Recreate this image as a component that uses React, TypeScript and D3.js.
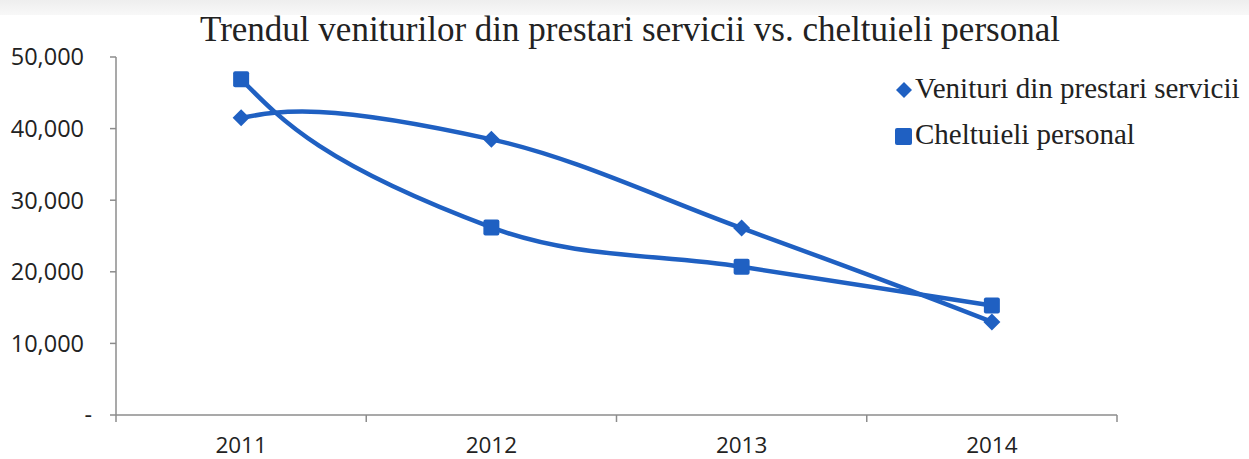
import React from "react";
import * as d3 from "d3";

const years = ["2011", "2012", "2013", "2014"];
const venituri = [41500, 38500, 26100, 13000];
const cheltuieli = [46900, 26200, 20700, 15300];
const yTicks = [0, 10000, 20000, 30000, 40000, 50000];
const title = "Trendul veniturilor din prestari servicii vs. cheltuieli personal";
const seriesNames = ["Venituri din prestari servicii", "Cheltuieli personal"];

const W = 1249, H = 459;
const left = 116, right = 1117, top = 57, bottom = 415;
const blue = "#1F60C2";
const axisColor = "#8c8c8c";

// Excel-like smoothed line: Catmull-Rom style tangents, stronger next to the ends, natural ends
function smoothPath(pts: [number, number][], kMid = 1 / 6, kEnd = 1 / 3): string {
  const p = d3.path();
  const n = pts.length;
  const dir = pts.map((_, i) => {
    if (i === 0 || i === n - 1) return null;
    return [pts[i + 1][0] - pts[i - 1][0], pts[i + 1][1] - pts[i - 1][1]] as [number, number];
  });
  p.moveTo(pts[0][0], pts[0][1]);
  for (let i = 0; i < n - 1; i++) {
    const a = pts[i], b = pts[i + 1];
    const endSeg = i === 0 || i === n - 2;
    const k = endSeg ? kEnd : kMid;
    let c1: [number, number] | null = dir[i] ? [a[0] + dir[i]![0] * k, a[1] + dir[i]![1] * k] : null;
    let c2: [number, number] | null = dir[i + 1] ? [b[0] - dir[i + 1]![0] * k, b[1] - dir[i + 1]![1] * k] : null;
    if (!c1 && c2) c1 = [(a[0] + c2[0]) / 2, (a[1] + c2[1]) / 2];
    if (!c2 && c1) c2 = [(b[0] + c1[0]) / 2, (b[1] + c1[1]) / 2];
    if (!c1 || !c2) { p.lineTo(b[0], b[1]); continue; }
    p.bezierCurveTo(c1[0], c1[1], c2[0], c2[1], b[0], b[1]);
  }
  return p.toString();
}

export default function App() {
  const x = d3.scaleBand().domain(years).range([left, right]).padding(0);
  const y = d3.scaleLinear().domain([0, 50000]).range([bottom, top]);
  const cx = (d: string) => (x(d) as number) + x.bandwidth() / 2;
  const toPts = (vals: number[]) => vals.map((v, i) => [cx(years[i]), y(v)] as [number, number]);
  const diamond = (px: number, py: number, s: number) =>
    `M${px},${py - s}L${px + s},${py}L${px},${py + s}L${px - s},${py}Z`;
  const bounds = [...years.map((d) => x(d) as number), right];
  const sans = "'Open Sans', sans-serif";
  const serif = "'Liberation Serif', serif";
  return (
    <svg width={W} height={H} style={{ position: "absolute", left: 0, top: 0, background: "#fff" }}>
      <defs>
        <linearGradient id="topband" x1="0" x2="0" y1="0" y2="1">
          <stop offset="0" stopColor="#eeeeee" />
          <stop offset="1" stopColor="#f8f8f8" />
        </linearGradient>
      </defs>
      <rect x={0} y={0} width={W} height={15} fill="url(#topband)" />
      <text x={630} y={41} textAnchor="middle" fontFamily={serif} fontSize={35} fill="#222">{title}</text>
      {/* axes */}
      <line x1={left} x2={left} y1={top} y2={bottom} stroke={axisColor} strokeWidth={1.5} />
      <line x1={left} x2={right} y1={bottom} y2={bottom} stroke={axisColor} strokeWidth={1.5} />
      {yTicks.map((t) => (
        <g key={t}>
          <line x1={left - 6} x2={left} y1={y(t)} y2={y(t)} stroke={axisColor} strokeWidth={1.5} />
          <text x={t === 0 ? 92 : 84} y={y(t)} dy="0.36em" textAnchor="end" fontFamily={sans} fontSize={23.5} fill="#222">
            {t === 0 ? "-" : d3.format(",")(t)}
          </text>
        </g>
      ))}
      {bounds.map((b, i) => (
        <line key={i} x1={b} x2={b} y1={bottom} y2={bottom + 7} stroke={axisColor} strokeWidth={1.5} />
      ))}
      {years.map((d) => (
        <text key={d} x={cx(d)} y={453} textAnchor="middle" fontFamily={sans} fontSize={22.5} fill="#222">{d}</text>
      ))}
      {/* lines */}
      <path d={smoothPath(toPts(venituri))} fill="none" stroke={blue} strokeWidth={4.5} />
      <path d={smoothPath(toPts(cheltuieli))} fill="none" stroke={blue} strokeWidth={4.5} />
      {venituri.map((v, i) => (
        <path key={"v" + i} d={diamond(cx(years[i]), y(v), 8.5)} fill={blue} />
      ))}
      {cheltuieli.map((v, i) => (
        <rect key={"c" + i} x={cx(years[i]) - 8} y={y(v) - 8} width={16} height={16} rx={2} fill={blue} />
      ))}
      {/* legend */}
      <path d={diamond(904, 90, 8)} fill={blue} />
      <text x={915} y={98} fontFamily={serif} fontSize={29} fill="#222">{seriesNames[0]}</text>
      <rect x={895} y={128} width={17} height={17} rx={2} fill={blue} />
      <text x={915} y={144} fontFamily={serif} fontSize={29} fill="#222">{seriesNames[1]}</text>
    </svg>
  );
}
